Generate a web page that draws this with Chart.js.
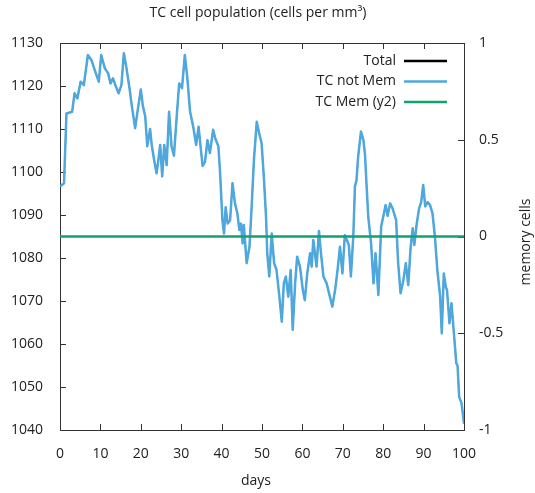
<!DOCTYPE html>
<html>
<head>
<meta charset="utf-8">
<title>TC cell population</title>
<script src="https://cdn.jsdelivr.net/npm/chart.js@4.4.1/dist/chart.umd.min.js"></script>
<style>
  html, body { margin: 0; padding: 0; background: #fff; }
  #wrap { width: 535px; height: 493px; position: relative; }
</style>
</head>
<body>
<div id="wrap"><canvas id="tcChart"></canvas></div>
<script>
// ---- data -------------------------------------------------------------
const days = [
  0, 1.0, 1.6, 3.0, 3.6, 4.3, 5.1, 5.9, 6.9, 7.8, 8.6, 9.6, 10.2, 11.1, 11.9,
  12.5, 13.1, 13.7, 14.5, 15.2, 15.8, 16.4, 17.2, 17.8, 18.6, 19.3, 20.0, 20.5,
  21.1, 21.6, 22.3, 22.7, 23.3, 23.9, 24.3, 24.8, 25.3, 25.8, 26.4, 27.0, 27.6,
  28.2, 28.9, 29.5, 30.2, 30.9, 31.5, 32.2, 33.0, 33.7, 34.3, 34.8, 35.3, 35.9,
  36.5, 37.1, 37.9, 38.5, 39.2, 39.6, 40.2, 40.6, 41.0, 41.5, 42.1, 42.7, 43.3,
  43.9, 44.4, 44.8, 45.2, 45.5, 46.2, 46.9, 47.4, 48.0, 48.7, 49.3, 49.9, 50.5,
  51.0, 51.3, 51.8, 52.4, 53.0, 53.6, 54.3, 54.9, 55.4, 55.9, 56.5, 57.1, 57.6,
  58.2, 58.7, 59.4, 60.1, 60.6, 61.2, 61.9, 62.3, 62.7, 63.1, 63.5, 64.1, 64.6,
  65.2, 66.0, 66.8, 67.4, 68.1, 68.7, 69.3, 69.9, 70.5, 71.0, 71.5, 72.0, 72.6,
  73.0, 73.4, 73.8, 74.5, 75.1, 75.5, 75.9, 76.3, 77.0, 77.6, 78.1, 78.8, 79.5,
  80.0, 80.6, 81.1, 81.7, 82.3, 83.2, 83.7, 84.3, 85.0, 85.6, 86.2, 86.8, 87.3,
  87.7, 88.3, 88.9, 89.4, 89.9, 90.4, 91.0, 91.6, 92.2, 92.8, 93.4, 94.1, 94.5,
  95.0, 95.5, 95.8, 96.4, 96.9, 97.5, 98.1, 98.4, 98.8, 99.4, 100
];

const tcNotMem = [
  1096.6, 1097.4, 1113.6, 1114.0, 1118.3, 1117.1, 1121.0, 1120.2, 1127.2, 1126.0,
  1123.7, 1121.0, 1127.2, 1124.1, 1123.0, 1120.6, 1121.8, 1120.2, 1118.3, 1120.2,
  1127.6, 1124.5, 1119.5, 1115.2, 1110.2, 1114.8, 1119.2, 1115.4, 1112.9, 1106.0,
  1110.0, 1106.3, 1102.8, 1099.7, 1102.4, 1106.3, 1099.0, 1106.3, 1101.6, 1114.0,
  1106.0, 1103.8, 1113.0, 1120.6, 1119.5, 1127.2, 1122.0, 1114.0, 1110.4, 1106.3,
  1110.5, 1105.9, 1101.4, 1102.4, 1107.4, 1104.4, 1109.8, 1107.6, 1106.0, 1100.3,
  1088.8, 1085.7, 1091.8, 1088.0, 1088.8, 1097.4, 1092.7, 1090.4, 1086.5, 1088.0,
  1083.4, 1087.7, 1078.8, 1082.6, 1091.2, 1102.8, 1111.7, 1109.0, 1106.7, 1098.1,
  1089.6, 1081.1, 1075.7, 1085.7, 1078.8, 1077.2, 1071.0, 1065.2, 1074.1, 1075.7,
  1071.0, 1077.2, 1063.3, 1074.1, 1080.3, 1078.0, 1072.6, 1070.2, 1076.4, 1081.1,
  1078.0, 1084.2, 1081.1, 1078.0, 1086.3, 1081.1, 1075.7, 1074.1, 1071.0, 1068.7,
  1072.6, 1077.2, 1082.6, 1076.4, 1085.3, 1084.2, 1083.0, 1075.7, 1085.0, 1096.6,
  1098.1, 1103.6, 1109.4, 1107.4, 1104.0, 1096.6, 1089.6, 1083.4, 1074.1, 1081.1,
  1071.4, 1087.3, 1089.6, 1092.3, 1089.8, 1092.7, 1091.6, 1088.8, 1078.8, 1071.8,
  1074.9, 1078.8, 1073.7, 1082.6, 1086.9, 1083.0, 1088.0, 1091.6, 1093.0, 1097.0,
  1092.0, 1093.0, 1092.3, 1090.4, 1085.0, 1077.2, 1071.0, 1062.5, 1076.4, 1073.3,
  1072.5, 1064.8, 1069.5, 1062.5, 1055.5, 1055.0, 1047.7, 1046.2, 1041.5
];

// no memory cells in this run, so Total equals TC not Mem
const tcMem = days.map(() => 0);
const total = tcNotMem.map((v, i) => v + tcMem[i]);

const xTicks = [0, 10, 20, 30, 40, 50, 60, 70, 80, 90, 100];
const yTicks = [1040, 1050, 1060, 1070, 1080, 1090, 1100, 1110, 1120, 1130];
const y2Ticks = [-1, -0.5, 0, 0.5, 1];

// ---- styling ------------------------------------------------------------
const FONT = 'Open Sans';
const TEXT = '#222';
const AXIS = '#333';

const toPoints = ys => days.map((d, i) => ({ x: d, y: ys[i] }));
const plain = v => String(v);

// gnuplot-like frame: box border, inward ticks, text labels, inline legend
const frame = {
    id: 'frame',
    beforeDatasetsDraw(chart) {
        const { ctx, chartArea: a, scales } = chart;
        const t = 6;
        ctx.save();
        ctx.strokeStyle = AXIS;
        ctx.lineWidth = 1;
        ctx.beginPath();
        scales.x.ticks.forEach(tk => {
            const px = Math.round(scales.x.getPixelForValue(tk.value)) + 0.5;
            ctx.moveTo(px, a.bottom); ctx.lineTo(px, a.bottom - t);
            ctx.moveTo(px, a.top); ctx.lineTo(px, a.top + t);
        });
        scales.y.ticks.forEach(tk => {
            const py = Math.round(scales.y.getPixelForValue(tk.value)) + 0.5;
            ctx.moveTo(a.left, py); ctx.lineTo(a.left + t, py);
        });
        scales.y2.ticks.forEach(tk => {
            const py = Math.round(scales.y2.getPixelForValue(tk.value)) + 0.5;
            ctx.moveTo(a.right, py); ctx.lineTo(a.right - t, py);
        });
        ctx.stroke();
        ctx.strokeRect(Math.round(a.left) + 0.5, Math.round(a.top) + 0.5,
            Math.round(a.right - a.left), Math.round(a.bottom - a.top));
        ctx.restore();
    },
    afterDraw(chart) {
        const { ctx } = chart;
        ctx.save();
        ctx.fillStyle = TEXT;
        ctx.font = '14px "' + FONT + '"';
        ctx.textBaseline = 'middle';
        ctx.textAlign = 'center';
        ctx.fillText('TC cell population (cells per mm³)', 258, 13);
        ctx.fillText('days', 256, 481);

        ctx.save();
        ctx.translate(526, 242);
        ctx.rotate(-Math.PI / 2);
        ctx.fillText('memory cells', 0, 0);
        ctx.restore();

        // legend: right-aligned label, sample line to its right
        ctx.textAlign = 'right';
        chart.data.datasets.forEach((ds, i) => {
            const y = 61 + i * 20.5;
            ctx.fillStyle = TEXT;
            ctx.fillText(ds.label, 396, y);
            ctx.strokeStyle = ds.borderColor;
            ctx.lineWidth = 2.5;
            ctx.beginPath();
            ctx.moveTo(404, y); ctx.lineTo(447, y);
            ctx.stroke();
        });
        ctx.restore();
    }
};

const tickFont = { family: FONT, size: 14 };

new Chart(document.getElementById('tcChart'), {
    type: 'line',
    data: {
        datasets: [
            { label: 'Total', data: toPoints(total), borderColor: '#000000',
              borderWidth: 1.2, yAxisID: 'y', order: 3 },
            { label: 'TC not Mem', data: toPoints(tcNotMem), borderColor: '#4fa8dd',
              borderWidth: 2.5, yAxisID: 'y', order: 2 },
            { label: 'TC Mem (y2)', data: toPoints(tcMem), borderColor: '#12a26c',
              borderWidth: 2.5, yAxisID: 'y2', order: 1 }
        ]
    },
    options: {
        responsive: true,
        maintainAspectRatio: false,
        animation: false,
        events: [],
        elements: { point: { radius: 0 }, line: { tension: 0, borderJoinStyle: 'round' } },
        layout: { padding: { top: 43, left: 0, right: 0, bottom: 0 } },
        plugins: { legend: { display: false }, tooltip: { enabled: false }, title: { display: false } },
        scales: {
            x: {
                type: 'linear', min: 0, max: 100,
                afterBuildTicks: s => { s.ticks = xTicks.map(v => ({ value: v })); },
                afterFit: s => { s.height = 63; },
                grid: { display: false },
                border: { display: false },
                ticks: { color: TEXT, font: tickFont, padding: 8, maxRotation: 0, callback: plain }
            },
            y: {
                type: 'linear', position: 'left', min: 1040, max: 1130,
                afterBuildTicks: s => { s.ticks = yTicks.map(v => ({ value: v })); },
                afterFit: s => { s.width = 60; },
                grid: { display: false },
                border: { display: false },
                ticks: { color: TEXT, font: tickFont, padding: 9, callback: plain }
            },
            y2: {
                type: 'linear', position: 'right', min: -1, max: 1,
                afterBuildTicks: s => { s.ticks = y2Ticks.map(v => ({ value: v })); },
                afterFit: s => { s.width = 71; },
                grid: { display: false },
                border: { display: false },
                ticks: { color: TEXT, font: tickFont, padding: 7, callback: plain }
            }
        }
    },
    plugins: [frame]
});
</script>
</body>
</html>
